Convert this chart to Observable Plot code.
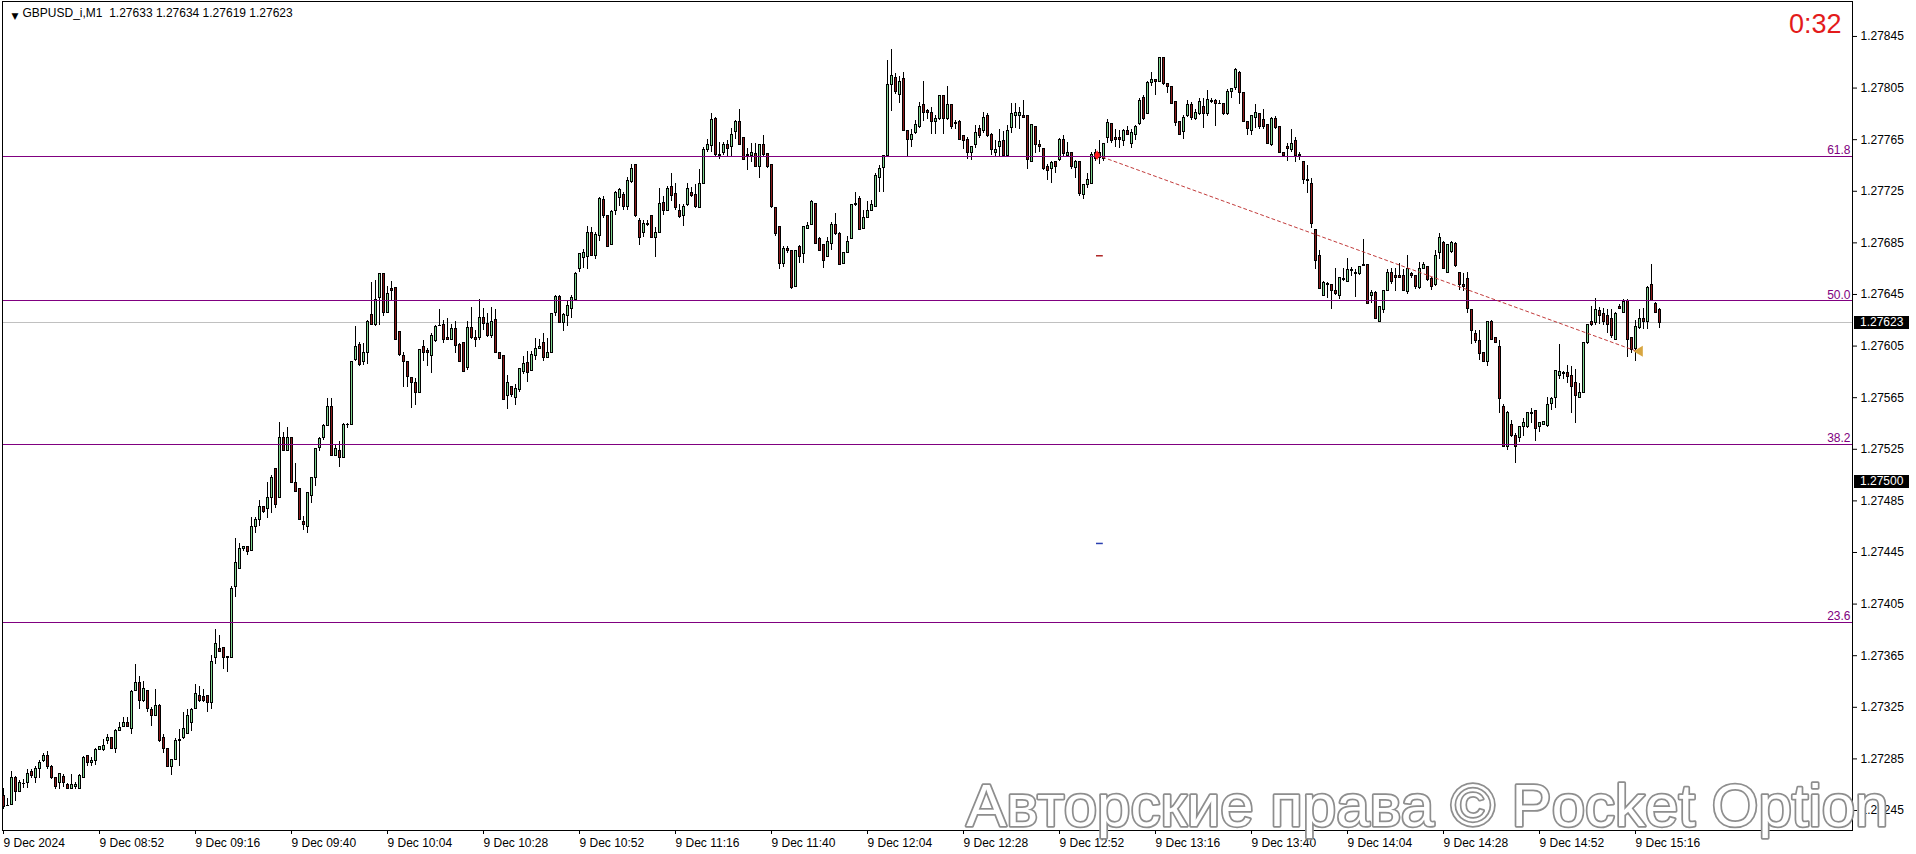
<!DOCTYPE html>
<html><head><meta charset="utf-8">
<script src="https://cdn.jsdelivr.net/npm/d3@7"></script>
<script src="https://cdn.jsdelivr.net/npm/@observablehq/plot@0.6"></script>
<style>html,body{margin:0;padding:0;background:#fff;} #chart svg{display:block;}</style>
</head><body><div id="chart"></div>
<script>
// ---------- data ----------
const symbol = "GBPUSD_i,M1";
const timer = "0:32";
const watermark = "Авторские права © Pocket Option";
const timeLabels = ["9 Dec 2024","9 Dec 08:52","9 Dec 09:16","9 Dec 09:40","9 Dec 10:04","9 Dec 10:28","9 Dec 10:52","9 Dec 11:16","9 Dec 11:40","9 Dec 12:04","9 Dec 12:28","9 Dec 12:52","9 Dec 13:16","9 Dec 13:40","9 Dec 14:04","9 Dec 14:28","9 Dec 14:52","9 Dec 15:16"];
const barsPerLabel = 24;
const priceTicks = [1.27245,1.27285,1.27325,1.27365,1.27405,1.27445,1.27485,1.27525,1.27565,1.27605,1.27645,1.27685,1.27725,1.27765,1.27805,1.27845];
const fibLevels = ["61.8","50.0","38.2","23.6"];
const fibPrices = [1.27752,1.27640,1.27529,1.27391];
const tagPrices = [1.27623,1.27500];
const trendBars = [273.4,408.3];
const trendPrices = [1.27753,1.27601];
const markerBars = [274.1,274.1];
const markerPrices = [1.27675,1.27452];
const priceBase = 1.27;      // OHLC below in points (1e-5) above this base
const ohlc = [
[256,262,246,248],[249,254,248,249],[249,275,249,270],[270,271,252,259],[259,268,259,266],[266,269,262,266],[266,277,262,273],[275,277,270,272],[270,279,266,277],[277,284,270,282],
[283,289,282,287],[287,291,277,279],[279,280,269,270],[270,270,261,263],[266,273,261,273],[271,273,263,266],[265,266,262,262],[262,273,261,265],[263,267,261,265],[262,273,262,272],
[270,287,270,286],[287,288,279,282],[282,286,279,283],[283,293,280,292],[292,295,292,294],[292,300,291,295],[299,304,296,301],[301,301,292,293],[293,308,289,307],[307,313,306,309],
[310,317,310,313],[313,317,309,310],[308,338,304,337],[338,358,338,344],[344,349,323,330],[330,345,329,339],[338,338,321,324],[323,325,310,318],[318,339,318,326],[326,327,298,299],
[301,304,289,293],[293,293,279,279],[279,284,272,284],[284,301,284,299],[299,308,279,300],[301,321,300,308],[304,323,304,318],[313,324,306,323],[324,343,324,335],[334,341,329,330],
[333,339,329,330],[334,334,321,328],[328,365,323,360],[363,385,358,374],[370,381,368,368],[371,371,354,363],[364,364,352,363],[363,419,363,417],[418,456,410,437],[432,452,432,448],
[448,450,446,449],[449,450,443,445],[446,472,446,465],[465,472,460,470],[470,485,465,480],[480,480,475,476],[479,499,471,487],[487,505,475,503],[510,510,479,482],[487,546,487,534],
[534,538,523,524],[524,542,524,534],[534,534,499,499],[499,514,492,492],[494,494,470,470],[469,473,462,466],[465,491,460,491],[489,503,483,503],[503,525,496,525],[526,534,523,533],
[534,544,532,543],[543,564,543,558],[558,564,520,520],[520,528,520,525],[524,531,511,518],[518,545,518,544],[544,545,541,544],[544,593,544,593],[594,620,593,604],[606,608,589,590],
[593,607,590,600],[600,625,591,624],[629,654,621,621],[621,656,620,641],[642,661,621,661],[661,661,628,631],[631,651,630,645],[649,655,640,648],[650,650,610,610],[616,616,597,598],
[597,600,573,593],[593,593,573,581],[580,580,557,576],[576,580,559,569],[569,602,569,602],[604,609,593,600],[601,603,589,600],[597,615,584,613],[609,621,608,620],[621,633,620,621],
[621,625,607,610],[611,626,609,610],[610,622,609,618],[618,624,599,605],[606,607,592,593],[607,607,585,585],[588,624,586,619],[619,635,610,611],[611,617,604,610],[611,641,609,627],
[627,634,617,622],[622,630,612,613],[613,635,611,624],[625,633,600,600],[600,600,595,595],[597,598,563,563],[566,582,556,576],[573,574,565,567],[565,575,559,572],[571,587,569,587],
[585,597,583,591],[592,601,577,584],[586,601,585,598],[597,611,594,603],[603,610,602,604],[607,615,593,596],[596,611,595,600],[600,630,600,630],[631,644,628,643],[643,644,623,623],
[623,630,616,629],[628,640,620,636],[634,644,626,642],[641,662,640,661],[665,677,662,676],[673,680,665,677],[674,698,664,693],[693,697,675,675],[675,693,672,691],[690,720,686,719],
[718,721,704,706],[706,706,682,682],[683,710,683,709],[710,725,706,724],[720,727,713,726],[722,724,710,713],[713,736,710,733],[732,746,731,742],[745,745,705,706],[702,704,683,689],
[693,702,689,700],[700,702,698,699],[706,706,689,689],[689,697,674,693],[693,727,692,715],[716,721,706,710],[710,729,710,727],[728,739,717,721],[723,731,710,712],[710,715,704,705],
[706,715,698,713],[714,731,713,727],[724,728,720,721],[722,730,712,713],[712,742,712,731],[731,759,731,757],[757,765,755,761],[760,785,755,780],[781,782,752,753],[753,763,750,752],
[755,763,753,761],[761,764,752,758],[759,774,751,769],[771,780,765,779],[779,788,761,761],[766,766,749,749],[753,758,741,752],[752,762,747,755],[754,762,744,744],[744,761,735,761],
[761,768,752,753],[754,754,743,744],[745,745,712,713],[712,712,690,692],[697,697,664,669],[669,682,666,680],[680,682,677,679],[679,679,649,650],[651,679,651,679],[682,683,669,674],
[676,697,669,697],[696,701,695,698],[699,718,699,717],[715,715,684,684],[688,689,679,679],[683,683,665,671],[674,689,674,686],[684,701,679,699],[699,708,691,692],[692,693,668,668],
[669,677,668,677],[677,690,677,686],[688,715,688,714],[715,724,713,714],[719,721,695,695],[696,710,695,704],[704,717,704,710],[710,718,710,714],[713,739,713,737],[735,745,724,742],
[743,752,724,752],[752,826,752,807],[807,835,787,814],[813,816,800,802],[800,814,793,810],[812,817,772,772],[772,772,752,765],[765,773,759,769],[770,780,769,776],[775,794,774,790],
[792,810,779,786],[787,788,781,786],[786,790,769,779],[779,784,769,781],[781,799,780,799],[799,799,769,781],[781,806,780,792],[792,792,773,775],[777,780,773,778],[779,780,765,765],
[768,768,757,764],[765,767,750,755],[755,760,749,759],[761,776,758,770],[773,776,766,768],[772,786,770,782],[783,785,767,768],[769,770,753,757],[755,764,751,757],[759,773,752,763],
[764,771,751,752],[752,776,752,772],[774,793,770,785],[783,793,774,786],[783,790,773,786],[783,795,782,782],[783,783,742,749],[748,776,748,776],[775,775,754,761],[761,764,755,759],
[758,758,741,742],[744,746,733,741],[742,748,731,747],[748,748,739,744],[749,766,748,765],[765,768,752,754],[752,763,752,755],[755,755,742,744],[743,749,735,748],[748,748,721,723],
[722,730,719,730],[730,739,727,734],[731,755,731,753],[755,757,748,750],[755,764,746,751],[750,762,748,762],[766,781,762,778],[777,777,762,764],[766,773,759,765],[766,772,758,765],
[764,773,760,772],[772,775,769,769],[762,773,758,770],[769,776,764,775],[777,797,776,795],[797,799,780,781],[785,810,785,809],[809,817,806,811],[811,811,799,810],[810,828,810,828],
[828,828,807,808],[808,808,801,806],[806,806,792,793],[794,794,775,778],[779,779,768,769],[771,784,765,782],[783,795,782,792],[792,794,780,782],[781,788,780,786],[785,797,784,794],
[790,797,774,785],[785,803,783,796],[795,797,793,794],[795,796,775,793],[793,795,792,793],[793,793,784,785],[785,804,784,802],[802,804,797,804],[805,820,803,819],[817,818,792,801],
[801,801,778,779],[779,779,768,773],[772,783,768,783],[782,792,774,786],[785,785,773,775],[780,788,773,775],[776,776,761,762],[761,782,760,781],[781,783,773,774],[775,775,754,755],
[755,755,752,752],[759,762,748,758],[757,773,755,762],[764,767,747,752],[753,755,749,752],[748,748,730,734],[734,745,723,733],[731,735,696,700],[695,695,664,671],[675,679,649,649],
[644,655,644,654],[653,654,642,652],[652,652,633,648],[648,665,644,645],[644,658,641,658],[656,665,655,657],[655,673,655,664],[664,666,659,663],[662,664,643,661],[661,666,660,666],
[668,688,667,667],[668,668,638,638],[644,648,638,646],[646,647,626,626],[624,635,624,635],[633,648,630,648],[648,664,647,662],[662,665,653,655],[659,665,647,658],[659,669,658,658],
[659,664,648,648],[647,675,645,665],[661,662,657,659],[659,660,649,651],[650,670,649,665],[665,670,664,668],[666,666,655,656],[657,658,648,651],[652,679,651,675],[677,692,672,689],
[685,686,664,665],[662,683,662,683],[678,686,677,685],[684,685,666,667],[662,662,648,652],[652,661,647,651],[657,662,630,634],[633,633,606,617],[614,617,607,609],[609,617,594,599],
[600,600,593,593],[593,624,589,624],[624,625,610,610],[611,611,607,607],[604,609,553,564],[558,560,527,527],[527,554,524,553],[544,547,534,535],[535,537,514,527],[534,543,530,542],
[542,549,535,545],[542,553,541,553],[553,557,545,552],[555,555,531,541],[542,545,538,545],[544,546,544,546],[543,565,542,559],[560,565,555,564],[565,586,557,586],[582,606,579,585],
[583,585,579,584],[584,590,576,581],[582,589,553,573],[576,587,545,566],[565,576,564,569],[569,607,569,607],[607,622,606,621],[624,636,620,621],[623,642,621,633],[632,635,622,628],
[630,634,621,624],[628,633,615,621],[626,633,611,613],[610,631,609,630],[635,637,633,634],[631,641,631,639],[640,641,596,610],[611,612,599,602],[603,625,593,620],[619,633,618,626],
[626,634,618,624],[624,651,618,650],[652,668,640,640],[638,639,630,631],[633,634,619,623]
];

// ---------- derived tables ----------
const px = v => +(priceBase + v / 1e5).toFixed(5);
const candles = ohlc.map(([o, h, l, c], i) => ({i, open: px(o), high: px(h), low: px(l), close: px(c)}));
const bull = candles.filter(d => d.close > d.open);
const bear = candles.filter(d => d.close < d.open);
const doji = candles.filter(d => d.close === d.open);
const last = candles[candles.length - 1];
const fib = fibLevels.map((level, k) => ({level, price: fibPrices[k]}));
const trend = trendBars.map((bar, k) => ({bar, price: trendPrices[k]}));
const tickBars = timeLabels.map((_, k) => k * barsPerLabel);
const header = `${symbol}\u00a0\u00a0${last.open.toFixed(5)} ${last.high.toFixed(5)} ${last.low.toFixed(5)} ${last.close.toFixed(5)}`;

const bullColor = "#7fd48f";
const bearColor = "#8a1a1a";
const fibColor = "#800080";
const crisp = "crispEdges";

function priceTagMark(index, scales, values, dimensions) {
  const g = d3.create("svg:g").attr("text-anchor", "start");
  const x0 = dimensions.width - dimensions.marginRight;
  for (const p of tagPrices) {
    const y = Math.round(scales.y(p));
    g.append("rect").attr("x", x0 + 2).attr("y", y - 6).attr("width", 55).attr("height", 13).attr("fill", "#000");
    g.append("text").attr("x", x0 + 8).attr("y", y).attr("dy", "0.36em").attr("fill", "#fff")
      .attr("text-anchor", "start").attr("font-size", 12).text(p.toFixed(5));
  }
  return g.node();
}

const chart = Plot.plot({
  width: 1916, height: 854,
  marginLeft: 2, marginRight: 64, marginTop: 1, marginBottom: 24,
  style: {fontFamily: "'Liberation Sans', Arial, sans-serif", fontSize: "12px", color: "#000", background: "#fff", overflow: "visible"},
  x: {domain: [-0.25, 462.25]},
  y: {domain: [1.272295, 1.278721]},
  marks: [
    Plot.ruleY([last.close], {stroke: "#c0c0c0", shapeRendering: crisp}),
    Plot.ruleX(candles, {x: "i", y1: "low", y2: "high", stroke: "#000", shapeRendering: crisp}),
    Plot.rect(bull, {x1: d => d.i - 0.25, x2: d => d.i + 0.25, y1: "open", y2: "close", fill: bullColor, stroke: "#000", shapeRendering: crisp}),
    Plot.rect(bear, {x1: d => d.i - 0.25, x2: d => d.i + 0.25, y1: "open", y2: "close", fill: bearColor, stroke: "#000", shapeRendering: crisp}),
    Plot.ruleY(doji, {y: "close", x1: d => d.i - 0.375, x2: d => d.i + 0.375, stroke: "#000", shapeRendering: crisp}),
    Plot.ruleY(fib, {y: "price", stroke: fibColor, shapeRendering: crisp}),
    Plot.text(fib, {y: "price", text: "level", frameAnchor: "right", textAnchor: "end", dx: -2, dy: -6, fill: fibColor, fontSize: 12}),
    Plot.line(trend, {x: "bar", y: "price", stroke: "#c23b3b", strokeDasharray: "3,3", strokeWidth: 1}),
    Plot.dot([trend[0]], {x: "bar", y: "price", symbol: "diamond", r: 3, fill: "#ff1a1a"}),
    Plot.dot([trend[1]], {x: "bar", y: "price", symbol: "triangle", rotate: -90, r: 4, fill: "#d8a640", dx: 3}),
    Plot.ruleY([{bar: markerBars[0], price: markerPrices[0]}], {y: "price", x1: d => d.bar - 0.85, x2: d => d.bar + 0.85, stroke: "#b02a2a", strokeWidth: 1.5}),
    Plot.ruleY([{bar: markerBars[1], price: markerPrices[1]}], {y: "price", x1: d => d.bar - 0.85, x2: d => d.bar + 0.85, stroke: "#2a3fb0", strokeWidth: 1.5}),
    Plot.frame({stroke: "#000", shapeRendering: crisp}),
    Plot.axisX({ticks: tickBars, tickFormat: (d, k) => timeLabels[k], tickSize: 4, tickPadding: 4, textAnchor: "start", fontSize: 12}),
    Plot.axisY({anchor: "right", ticks: priceTicks, tickFormat: d => d.toFixed(5), tickSize: 4, tickPadding: 4, fontSize: 12}),
    priceTagMark,
    Plot.text(["▼"], {frameAnchor: "top-left", dx: 9, dy: 11, fontSize: 9, fontFamily: "DejaVu Sans", fill: "#000"}),
    Plot.text([header], {frameAnchor: "top-left", textAnchor: "start", lineAnchor: "top", dx: 20, dy: 7, fontSize: 12, fill: "#000"}),
    Plot.text([timer], {frameAnchor: "top-right", textAnchor: "end", lineAnchor: "top", dx: -11, dy: 12, fontSize: 27, fill: "#e31b1b"}),
    Plot.text([watermark], {frameAnchor: "bottom-right", textAnchor: "end", dx: 36, dy: -5, fontSize: 60,
      fill: "#ffffff", stroke: "#8e8e8e", strokeWidth: 3.5, paintOrder: "stroke"})
  ]
});
document.getElementById("chart").append(chart);
</script>
</body></html>
